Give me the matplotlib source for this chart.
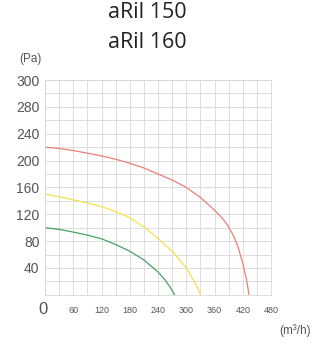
import matplotlib
matplotlib.use("Agg")
import matplotlib.pyplot as plt

# (flow m3/h, pressure Pa)
red_q = [0, 30, 60, 90, 120, 150, 180, 210, 240, 270, 300, 330, 360, 370, 380, 390, 400, 410, 420, 428, 433]
red_p = [220, 218, 215, 211, 207, 202, 196, 189, 180, 171, 160, 145, 126, 119, 111, 101, 88, 71, 46, 22, 0]
yel_q = [0, 30, 60, 90, 120, 150, 180, 210, 240, 270, 300, 315, 325, 330]
yel_p = [150, 146, 141.5, 137, 131.5, 124, 115, 101, 84, 65, 40, 22, 9, 0]
grn_q = [0, 30, 60, 90, 120, 150, 180, 210, 240, 255, 265, 272, 275]
grn_p = [100, 97.5, 93.5, 89, 83.5, 75, 65, 52, 34, 22, 12, 4, 0]

x_ticks = [60, 120, 180, 240, 300, 360, 420, 480]
y_ticks = [40, 80, 120, 160, 200, 240, 280, 320]
y_labels = ["40", "80", "120", "160", "200", "240", "280", "300"]

fig = plt.figure(figsize=(3.19, 3.51), dpi=100)
ax = fig.add_axes([0.141, 0.16, 0.709, 0.612])

ax.plot(red_q, red_p, color="#ec7f78", lw=0.9, solid_joinstyle="round")
ax.plot(yel_q, yel_p, color="#f3e24a", lw=0.9, solid_joinstyle="round")
ax.plot(grn_q, grn_p, color="#46a262", lw=0.9, solid_joinstyle="round")

ax.set_xlim(0, 480)
ax.set_ylim(0, 320)
ax.set_xticks(range(0, 481, 30), minor=True)
ax.set_yticks(range(0, 321, 20), minor=True)
ax.set_xticks(x_ticks)
ax.set_xticklabels([str(v) for v in x_ticks])
ax.set_yticks(y_ticks)
ax.set_yticklabels(y_labels)
ax.grid(which="both", color="#d8d8d8", lw=0.6)
ax.set_axisbelow(True)
for s in ax.spines.values():
    s.set_color("#d8d8d8")
    s.set_linewidth(0.6)
ax.tick_params(which="both", length=0)
ax.tick_params(axis="y", labelsize=10, labelcolor="#555555", pad=4)
ax.tick_params(axis="x", labelsize=6.5, labelcolor="#555555", pad=8)
for t in ax.get_xticklabels() + ax.get_yticklabels():
    t.set_fontfamily("Liberation Sans")

fig.text(43 / 319, 1 - 309 / 351, "0", fontsize=12, color="#555555",
         family="Liberation Sans", ha="center", va="center")
fig.text(30 / 319, 1 - 59 / 351, "(Pa)", fontsize=8.5, color="#555555",
         family="Liberation Sans", ha="center", va="center")
fig.text(295 / 319, 1 - 331 / 351, "(m³/h)", fontsize=8.5, color="#555555",
         family="Liberation Sans", ha="center", va="center")
fig.text(147 / 319, 1 - 12 / 351, "aRil 150", fontsize=15.5, color="#222222",
         family="Open Sans", ha="center", va="center")
fig.text(147 / 319, 1 - 43 / 351, "aRil 160", fontsize=15.5, color="#222222",
         family="Open Sans", ha="center", va="center")

fig.savefig("out.png", dpi=100)
